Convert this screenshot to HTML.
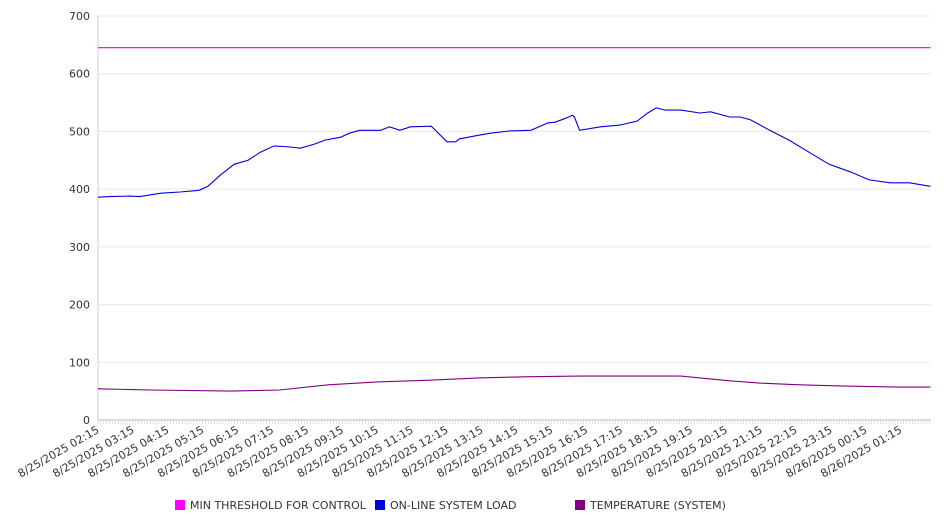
<!DOCTYPE html>
<html><head><meta charset="utf-8"><style>
html,body{margin:0;padding:0;background:#fff;}
svg{display:block;font-family:"DejaVu Sans","Liberation Sans",sans-serif;}
</style></head><body>
<svg id="chart" width="946" height="526" viewBox="0 0 946 526"></svg>
<script>
const tickLabels = ["8/25/2025 02:15","8/25/2025 03:15","8/25/2025 04:15","8/25/2025 05:15","8/25/2025 06:15","8/25/2025 07:15","8/25/2025 08:15","8/25/2025 09:15","8/25/2025 10:15","8/25/2025 11:15","8/25/2025 12:15","8/25/2025 13:15","8/25/2025 14:15","8/25/2025 15:15","8/25/2025 16:15","8/25/2025 17:15","8/25/2025 18:15","8/25/2025 19:15","8/25/2025 20:15","8/25/2025 21:15","8/25/2025 22:15","8/25/2025 23:15","8/26/2025 00:15","8/26/2025 01:15"];
const yTicks = [0,100,200,300,400,500,600,700];
const loadHours = [0,0.35,0.9,1.2,1.8,2.35,2.9,3.15,3.5,3.9,4.3,4.65,5.05,5.5,5.8,6.2,6.5,6.95,7.2,7.5,8.1,8.35,8.65,8.95,9.55,10.0,10.25,10.35,10.95,11.25,11.8,12.4,12.9,13.1,13.4,13.6,13.65,13.8,14.4,14.95,15.45,15.75,16.0,16.25,16.7,17.25,17.55,18.1,18.4,18.7,19.25,19.8,20.4,20.95,21.55,22.1,22.7,23.25,23.85];
const loadValues = [386,387,388,387,393,395,398,405,424,443,450,464,475,473,471,478,485,490,497,502,502,508,502,508,509,482,482,487,494,497,501,502,515,516,523,528,525,502,508,511,518,532,541,537,537,532,534,525,525,520,502,485,463,443,430,416,411,411,405];
const tempHours = [0,1.5,3.8,5.2,6.6,8.0,9.5,10.9,12.4,13.8,16.7,17.25,18.1,18.95,20.1,21.25,22.95,23.85];
const tempValues = [54,52,50,52,61,66,69,73,75,76,76,73,68,64,61,59,57,57];
const thresholdHours = [0,23.85];
const thresholdValues = [645,645];

const NS="http://www.w3.org/2000/svg";
const svg=document.getElementById('chart');
const X0=98,X1=931,Y0=420,Y1=16,PXH=34.9;
const xs=t=>X0+t*PXH;
const ys=v=>Y0-(v/700)*(Y0-Y1);
function mk(tag,attrs,parent){const e=document.createElementNS(NS,tag);for(const k in attrs)e.setAttribute(k,attrs[k]);(parent||svg).appendChild(e);return e;}

// grid + y labels
yTicks.forEach(v=>{
  const g=mk('line',{x1:X0,x2:X1,y1:ys(v),y2:ys(v),stroke:v===0?'#bbb':'#e8e8e8','stroke-width':1});
  
  
  const t=mk('text',{x:90,y:ys(v)+4,'text-anchor':'end','font-size':11,fill:'#333'});
  t.textContent=v;
  
  
});
const ax=mk('line',{x1:X0,x2:X0,y1:Y1,y2:Y0,stroke:'#ccc','stroke-width':1});


// minor ticks every 5 min
for(let m=0;m<=23.85*12;m++){
  const tk=mk('line',{x1:xs(m/12),x2:xs(m/12),y1:Y0,y2:Y0+4,stroke:'#ccc','stroke-width':0.6});
  
  
}
// x labels
tickLabels.forEach((s,i)=>{
  const x=xs(i)+2,y=Y0+12;
  const t=mk('text',{x:x,y:y,'text-anchor':'end','font-size':11,fill:'#333',transform:`rotate(-30 ${x} ${y})`});
  t.textContent=s;
  
  
});
function series(hours,vals,color,name){
  const d=hours.map((h,i)=>(i?'L':'M')+xs(h).toFixed(1)+' '+ys(vals[i]).toFixed(1)).join(' ');
  const p=mk('path',{d:d,fill:'none',stroke:color,'stroke-width':1.1});
  
  
}
series(thresholdHours,thresholdValues,'#e000e0','min-threshold-line');
series(loadHours,loadValues,'#0000dd','online-system-load-line');
series(tempHours,tempValues,'#800080','temperature-line');

// legend
const legend=[['MIN THRESHOLD FOR CONTROL','#ff00ff',175],['ON-LINE SYSTEM LOAD','#0000ee',375],['TEMPERATURE (SYSTEM)','#800080',575]];
legend.forEach(([label,c,x])=>{
  const g=mk('g',{});
  
  
  mk('rect',{x:x,y:500,width:10,height:10,fill:c},g);
  const t=mk('text',{x:x+15,y:509,'font-size':11,fill:'#333'},g);
  t.textContent=label;
});
</script>
</body></html>
